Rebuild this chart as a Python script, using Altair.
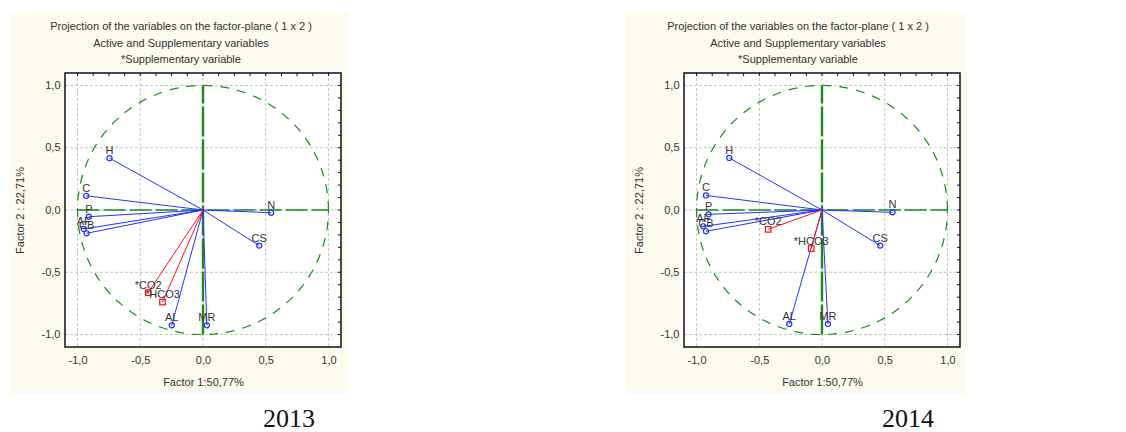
import altair as alt
import pandas as pd
import numpy as np

# ---- data ----
names = ["H", "C", "P", "AF", "CB", "N", "CS", "MR", "AL"]
x2013 = [-0.745, -0.931, -0.910, -0.950, -0.928, 0.543, 0.448, 0.031, -0.249]
y2013 = [0.416, 0.114, -0.054, -0.152, -0.187, -0.022, -0.286, -0.926, -0.926]
x2014 = [-0.739, -0.925, -0.904, -0.947, -0.925, 0.562, 0.464, 0.047, -0.261]
y2014 = [0.418, 0.117, -0.035, -0.131, -0.171, -0.019, -0.286, -0.915, -0.915]

sup_names = ["*CO2", "*HCO3"]
sx2013 = [-0.437, -0.323]
sy2013 = [-0.664, -0.739]
sx2014 = [-0.429, -0.086]
sy2014 = [-0.155, -0.310]

major_ticks = [-1.0, -0.5, 0.0, 0.5, 1.0]
top_minor = [-1.0, -0.875, -0.75, -0.625, -0.5, -0.375, -0.25, -0.125, 0.0,
             0.125, 0.25, 0.375, 0.5, 0.625, 0.75, 0.875, 1.0]
right_minor = [-1.0, -0.9, -0.8, -0.7, -0.6, -0.5, -0.4, -0.3, -0.2, -0.1, 0.0,
               0.1, 0.2, 0.3, 0.4, 0.5, 0.6, 0.7, 0.8, 0.9, 1.0]

title_lines = ["Projection of the variables on the factor-plane ( 1 x 2 )",
               "Active and Supplementary variables",
               "*Supplementary variable"]
x_title = "Factor 1:50,77%"
y_title = "Factor 2 : 22,71%"

# unit (correlation) circle
ang = np.linspace(0, 2 * np.pi, 145)
circ = pd.DataFrame({"cx": np.cos(ang), "cy": np.sin(ang), "o": np.arange(len(ang))})

W, H = 276, 274
CREAM = "#fdfaef"
GREEN = "#1a8a1a"
BLUE = "#2233ff"
RED = "#ff1010"
TXT = "#333333"
FONT = "Liberation Sans"

lab_expr = "replace(replace(format(datum.value, '.1f'), '.', ','), '\u2212', '-')"
xscale = alt.Scale(domain=[-1.1, 1.1], nice=False, zero=False)
yscale = alt.Scale(domain=[-1.1, 1.1], nice=False, zero=False)
xaxis = alt.Axis(values=major_ticks, labelExpr=lab_expr, grid=False, ticks=False,
                 domain=False, labelPadding=7, titlePadding=11, title=x_title, zindex=2,
                 titleFontWeight="normal", titleFont=FONT, labelFont=FONT,
                 titleFontSize=11, labelFontSize=11, titleColor=TXT, labelColor=TXT)
yaxis = alt.Axis(values=major_ticks, labelExpr=lab_expr, grid=False, ticks=False,
                 domain=False, labelPadding=5, titlePadding=16, title=y_title, zindex=2,
                 titleFontWeight="normal", titleFont=FONT, labelFont=FONT,
                 titleFontSize=11, labelFontSize=11, titleColor=TXT, labelColor=TXT)


def X(f):
    return alt.X(f, type="quantitative", scale=xscale, axis=xaxis)


def Y(f):
    return alt.Y(f, type="quantitative", scale=yscale, axis=yaxis)


def panel(xs, ys, sxs, sys_, year, rect_left, title_cx, cap_cx):
    one = pd.DataFrame({"a": [0]})
    act = pd.DataFrame({"name": names, "x": xs, "y": ys, "x0": 0.0, "y0": 0.0})
    sup = pd.DataFrame({"name": sup_names, "x": sxs, "y": sys_, "x0": 0.0, "y0": 0.0})
    grid = pd.DataFrame({"v": major_ticks})

    bg = alt.Chart(one).mark_rect(color=CREAM).encode(
        x=alt.value(rect_left), x2=alt.value(W + 7), y=alt.value(-61), y2=alt.value(H + 47))
    white = alt.Chart(one).mark_rect(color="white").encode(
        x=alt.value(0), x2=alt.value(W), y=alt.value(0), y2=alt.value(H))
    gx = alt.Chart(grid).mark_rule(color="#c4c4c4", strokeDash=[3, 2], strokeWidth=1).encode(
        x=X("v"), y=alt.value(0), y2=alt.value(H))
    gy = alt.Chart(grid).mark_rule(color="#c4c4c4", strokeDash=[3, 2], strokeWidth=1).encode(
        y=Y("v"), x=alt.value(0), x2=alt.value(W))
    circle = alt.Chart(circ).mark_line(color=GREEN, strokeWidth=1.2, strokeDash=[9, 8]).encode(
        x=X("cx"), y=Y("cy"), order="o:Q")
    hline = alt.Chart(pd.DataFrame({"x": [-1.0], "x2": [1.0], "y": [0.0]})).mark_rule(
        color=GREEN, strokeWidth=1.3, strokeDash=[22, 4]).encode(x=X("x"), x2="x2", y=Y("y"))
    vline = alt.Chart(pd.DataFrame({"x": [0.0], "y": [-1.0], "y2": [1.0]})).mark_rule(
        color=GREEN, strokeWidth=2.4, strokeDash=[30, 3]).encode(x=X("x"), y=Y("y"), y2="y2")
    vec = alt.Chart(act).mark_rule(color=BLUE, strokeWidth=1).encode(
        x=X("x0"), y=Y("y0"), x2="x", y2="y")
    pts = alt.Chart(act).mark_point(shape="circle", filled=False, size=26, color=BLUE,
                                    strokeWidth=1.2, opacity=1).encode(x=X("x"), y=Y("y"))
    lab = alt.Chart(act).mark_text(dy=-4, baseline="alphabetic", fontSize=11, color=TXT,
                                   font=FONT).encode(x=X("x"), y=Y("y"), text="name")
    svec = alt.Chart(sup).mark_rule(color=RED, strokeWidth=1).encode(
        x=X("x0"), y=Y("y0"), x2="x", y2="y")
    spts = alt.Chart(sup).mark_point(shape="square", filled=False, size=30, color=RED,
                                     strokeWidth=1.2, opacity=1).encode(x=X("x"), y=Y("y"))
    slab = alt.Chart(sup).mark_text(dy=-4, baseline="alphabetic", fontSize=11, color=TXT,
                                    font=FONT).encode(x=X("x"), y=Y("y"), text="name")
    frame = alt.Chart(one).mark_rect(fill=None, stroke="#111111", strokeWidth=1.5).encode(
        x=alt.value(0), x2=alt.value(W), y=alt.value(0), y2=alt.value(H))
    tmaj = alt.Chart(pd.DataFrame({"v": top_minor})).mark_rule(color="#111111", strokeWidth=1).encode(
        x=X("v"), y=alt.value(0), y2=alt.value(3))
    rmaj = alt.Chart(pd.DataFrame({"v": right_minor})).mark_rule(color="#111111", strokeWidth=1).encode(
        y=Y("v"), x=alt.value(W), x2=alt.value(W - 3))
    titles = [
        alt.Chart(one).mark_text(text=t, fontSize=11, color=TXT, font=FONT, baseline="middle").encode(
            x=alt.value(title_cx), y=alt.value(yy))
        for t, yy in zip(title_lines, [-46, -29, -13])
    ]
    cap = alt.Chart(one).mark_text(text=year, fontSize=26, color="#111111",
                                   font="Liberation Serif", baseline="middle").encode(
        x=alt.value(cap_cx), y=alt.value(346))
    return alt.layer(bg, white, gx, gy, circle, hline, vline, vec, svec, pts, spts, lab, slab,
                     frame, tmaj, rmaj, *titles, cap).properties(width=W, height=H)


left = panel(x2013, y2013, sx2013, sy2013, "2013", -56, 116, 224)
right = panel(x2014, y2014, sx2014, sy2014, "2014", -59, 114, 224)

chart = alt.hconcat(left, right, spacing=275).properties(
    padding={"left": 0, "top": 3, "right": 0, "bottom": 0}
).configure_view(stroke=None).configure(background="white")

chart.save("out.html", embed_options={"renderer": "svg", "actions": False})
